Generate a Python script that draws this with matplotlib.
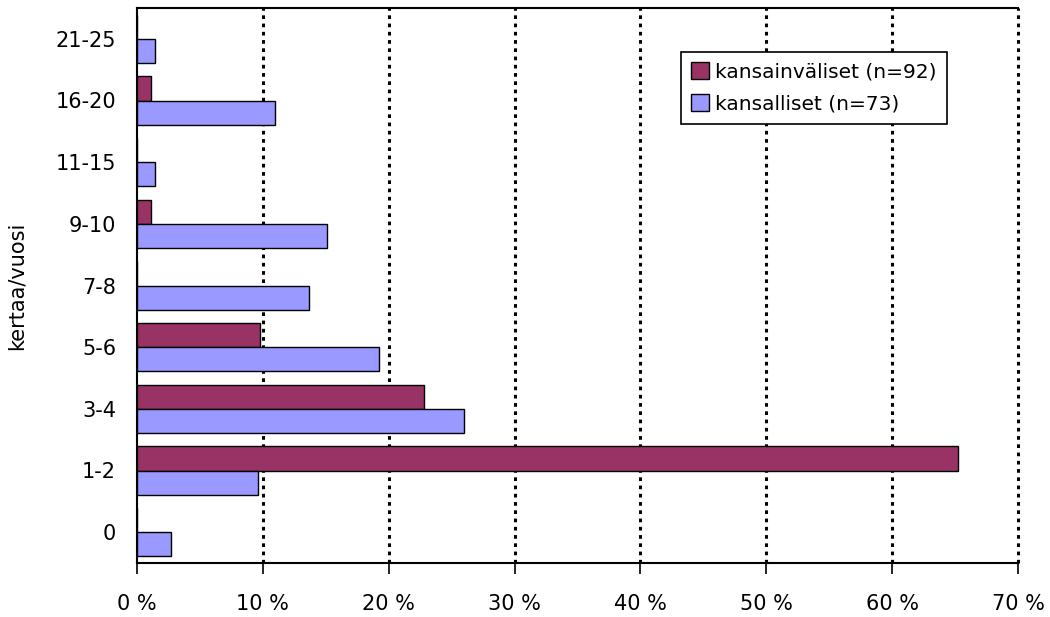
import matplotlib
matplotlib.use("Agg")
import matplotlib.pyplot as plt
import numpy as np

categories = ["0", "1-2", "3-4", "5-6", "7-8", "9-10", "11-15", "16-20", "21-25"]
kansainvaliset = [0.0, 65.2, 22.8, 9.8, 0.0, 1.1, 0.0, 1.1, 0.0]
kansalliset = [2.7, 9.6, 26.0, 19.2, 13.7, 15.1, 1.4, 11.0, 1.4]
xticks = [0, 10, 20, 30, 40, 50, 60, 70]
xticklabels = ["0 %", "10 %", "20 %", "30 %", "40 %", "50 %", "60 %", "70 %"]

plt.rcParams['font.family'] = ['DejaVu Sans']

fig = plt.figure(figsize=(10.5, 6.17), dpi=100)
ax = fig.add_axes([137/1050, 54/617, 881/1050, 555/617])

y = np.arange(len(categories))
h = 0.39
ax.barh(y + h/2, kansainvaliset, height=h, color="#993366", edgecolor="black",
        linewidth=1.0, label="kansainväliset (n=92)", zorder=3)
ax.barh(y - h/2, kansalliset, height=h, color="#9999FF", edgecolor="black",
        linewidth=1.0, label="kansalliset (n=73)", zorder=3)

ax.set_xlim(0, 70)
ax.set_ylim(-0.5, len(categories) - 0.5)
ax.set_xticks(xticks)
ax.set_xticklabels(xticklabels, fontsize=15)
ax.set_yticks(y)
ax.set_yticklabels(categories, fontsize=15)
ax.tick_params(axis='y', length=0, pad=15)
ax.tick_params(axis='x', length=8, width=1.2, direction='out', pad=14)

for v in xticks[1:]:
    ax.axvline(v, color="black", linestyle=(0, (1.2, 1.5)), linewidth=2.2,
               zorder=1, clip_on=False)

for side in ["left", "bottom", "top"]:
    ax.spines[side].set_linewidth(1.5)
ax.spines["right"].set_visible(False)

ax.set_ylabel("kertaa/vuosi", fontsize=15)
ax.yaxis.set_label_coords(-0.125, 0.5)

leg = ax.legend(loc="upper left", bbox_to_anchor=(0.6175, 0.9207), fontsize=14.5,
                frameon=True, fancybox=False, edgecolor="black", framealpha=1,
                handlelength=0.9, handleheight=0.9, handletextpad=0.3,
                borderpad=0.5, labelspacing=0.65, borderaxespad=0)
leg.get_frame().set_linewidth(1.2)

fig.savefig("out.png", dpi=100)
